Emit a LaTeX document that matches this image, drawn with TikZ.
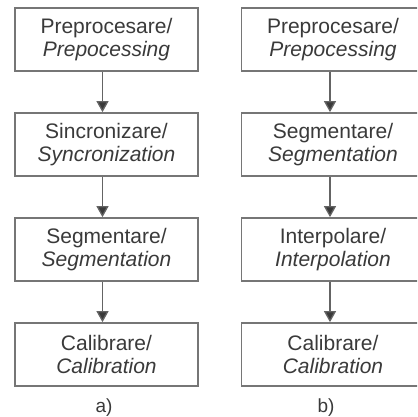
\documentclass[tikz,border=0pt]{standalone}
\usepackage{fontspec}
\setmainfont{Liberation Sans}
\usetikzlibrary{arrows.meta}
\definecolor{boxline}{RGB}{118,118,118}
\definecolor{inkgray}{RGB}{58,58,58}
\definecolor{linkgray}{RGB}{100,100,100}
\begin{document}
\begin{tikzpicture}[x=1pt,y=-1pt,
  stepbox/.style={draw=boxline,line width=1.7pt,minimum width=183pt,minimum height=63pt,
    inner sep=0pt,align=center,text=inkgray,font=\fontsize{21}{22.5}\selectfont},
  link/.style={draw=linkgray,line width=1.3pt,-{Triangle[length=11pt,width=12pt,fill=inkgray]}},
  caption/.style={text=inkgray,font=\fontsize{19}{20}\selectfont}]
\clip (0,0) rectangle (417,417);
\fill[white] (0,0) rectangle (417,417);
% column a)
\node[stepbox] (a1) at (106.5,39.5) {Preprocesare/\\\textit{Prepocessing}};
\node[stepbox] (a2) at (106.5,144.5) {Sincronizare/\\\textit{Syncronization}};
\node[stepbox] (a3) at (106.5,249.5) {Segmentare/\\\textit{Segmentation}};
\node[stepbox] (a4) at (106.5,354.5) {Calibrare/\\\textit{Calibration}};
\node[caption] (la) at (104,408) {a)};
% column b)
\node[stepbox] (b1) at (333,39.5) {Preprocesare/\\\textit{Prepocessing}};
\node[stepbox] (b2) at (333,144.5) {Segmentare/\\\textit{Segmentation}};
\node[stepbox] (b3) at (333,249.5) {Interpolare/\\\textit{Interpolation}};
\node[stepbox] (b4) at (333,354.5) {Calibrare/\\\textit{Calibration}};
\node[caption] (lb) at (326,408) {b)};
% arrows between steps
\foreach \u/\v in {a1/a2,a2/a3,a3/a4}
  \draw[link] ([xshift=-4pt]\u.south) -- ([xshift=-4pt]\v.north);
\foreach \u/\v in {b1/b2,b2/b3,b3/b4}
  \draw[link] ([xshift=-3pt]\u.south) -- ([xshift=-3pt]\v.north);
\end{tikzpicture}
\end{document}
